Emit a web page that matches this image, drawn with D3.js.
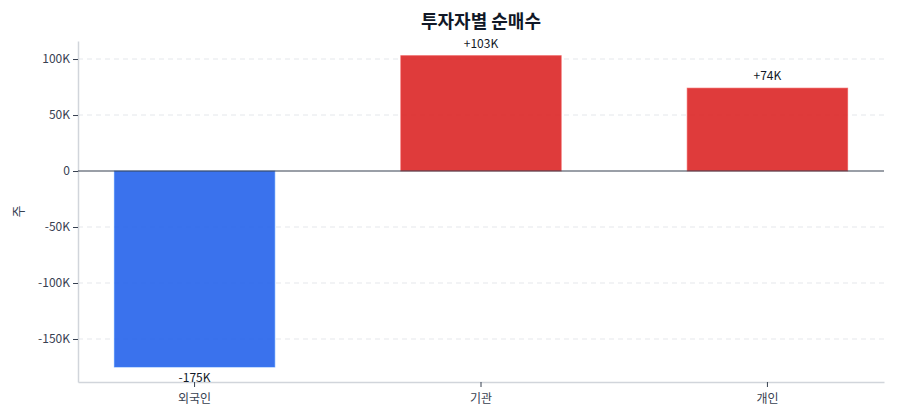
<!DOCTYPE html>
<html>
<head>
<meta charset="utf-8">
<script src="https://cdn.jsdelivr.net/npm/d3@7"></script>
<style>
  body { margin: 0; background: #fff; }
  svg text { font-family: "Noto Sans CJK KR", "Noto Sans", sans-serif; }
</style>
</head>
<body>
<div id="chart"></div>
<script>
// 투자자별 순매수 (주)
var investors = ["외국인", "기관", "개인"];
var netBuy = [-175000, 103000, 74000];
var yTicks = [-150000, -100000, -50000, 0, 50000, 100000];

var width = 900, height = 420;
var margin = {top: 41, right: 16, bottom: 38, left: 78};

var svg = d3.select("#chart").append("svg")
  .attr("width", width)
  .attr("height", height);

var x = d3.scaleBand()
  .domain(investors)
  .range([margin.left, width - margin.right])
  .paddingInner(0.44)
  .paddingOuter(0.127);

var y = d3.scaleLinear()
  .domain([-188400, 116100])
  .range([height - margin.bottom, margin.top]);

function fmt(v) {
  return v === 0 ? "0" : (v / 1000) + "K";
}

// grid
svg.append("g")
  .selectAll("line")
  .data(yTicks.filter(function(d) { return d !== 0; }))
  .join("line")
  .attr("x1", margin.left).attr("x2", width - margin.right)
  .attr("y1", function(d) { return y(d); })
  .attr("y2", function(d) { return y(d); })
  .attr("stroke", "#e5e7eb")
  .attr("stroke-dasharray", "5,4");

// y axis
var yAxis = svg.append("g")
  .attr("transform", "translate(" + margin.left + ",0)")
  .call(d3.axisLeft(y).tickValues(yTicks).tickFormat(fmt).tickSize(5).tickSizeOuter(0));
yAxis.select(".domain").attr("stroke", "#d1d5db").attr("stroke-width", 1.5);
yAxis.selectAll(".tick line").attr("stroke", "#374151");
yAxis.selectAll(".tick text").attr("fill", "#374151").style("font-size", "12px");

// x axis
var xAxis = svg.append("g")
  .attr("transform", "translate(0," + (height - margin.bottom) + ")")
  .call(d3.axisBottom(x).tickSize(5).tickSizeOuter(0));
xAxis.select(".domain").attr("stroke", "#d1d5db").attr("stroke-width", 1.5);
xAxis.selectAll(".tick line").attr("stroke", "#374151");
xAxis.selectAll(".tick text").attr("fill", "#374151").style("font-size", "12px").attr("dy", "1.1em");

// bars
var data = investors.map(function(d, i) { return {name: d, value: netBuy[i]}; });
svg.append("g")
  .selectAll("rect")
  .data(data)
  .join("rect")
  .attr("x", function(d) { return x(d.name); })
  .attr("width", x.bandwidth())
  .attr("y", function(d) { return y(Math.max(0, d.value)); })
  .attr("height", function(d) { return Math.abs(y(d.value) - y(0)); })
  .attr("fill", function(d) { return d.value < 0 ? "#2563eb" : "#dc2626"; })
  .attr("fill-opacity", 0.9)
  .attr("stroke", function(d) { return d.value < 0 ? "#3b82f6" : "#ef4444"; })
  .attr("stroke-opacity", 0.6);

// zero line
svg.append("line")
  .attr("x1", margin.left).attr("x2", width - margin.right)
  .attr("y1", y(0)).attr("y2", y(0))
  .attr("stroke", "#374151")
  .attr("stroke-width", 1.2);

// value labels
svg.append("g")
  .selectAll("text")
  .data(data)
  .join("text")
  .attr("x", function(d) { return x(d.name) + x.bandwidth() / 2; })
  .attr("y", function(d) { return d.value < 0 ? y(d.value) + 15 : y(d.value) - 8; })
  .attr("text-anchor", "middle")
  .attr("fill", "#111827")
  .style("font-size", "12px")
  .text(function(d) { return (d.value > 0 ? "+" : "") + fmt(d.value); });

// title
svg.append("text")
  .attr("x", (margin.left + width - margin.right) / 2)
  .attr("y", 28)
  .attr("text-anchor", "middle")
  .attr("fill", "#111827")
  .style("font-size", "18px")
  .style("font-weight", "bold")
  .text("투자자별 순매수");

// y label
svg.append("text")
  .attr("transform", "translate(23," + ((margin.top + height - margin.bottom) / 2) + ") rotate(-90)")
  .attr("text-anchor", "middle")
  .attr("fill", "#374151")
  .style("font-size", "13px")
  .text("주");
</script>
</body>
</html>
